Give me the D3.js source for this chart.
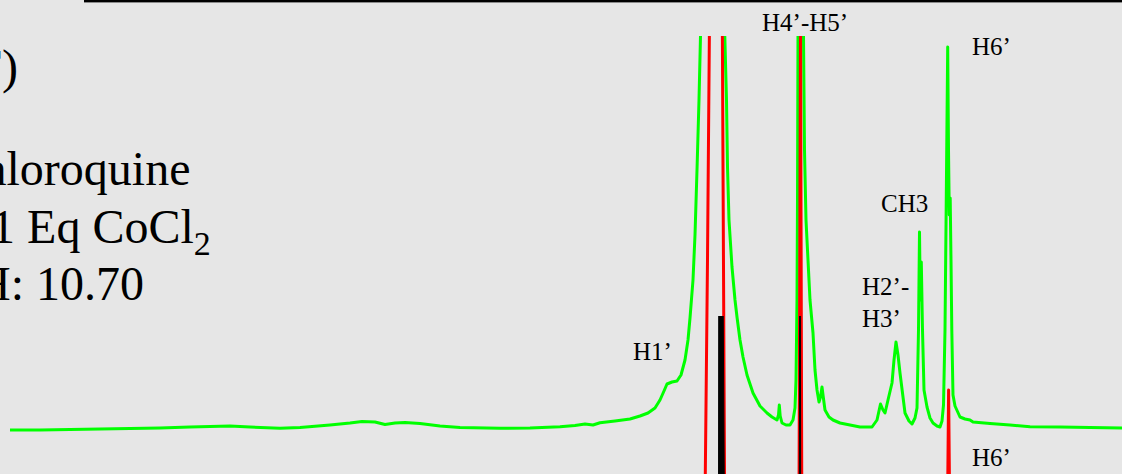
<!DOCTYPE html>
<html>
<head>
<meta charset="utf-8">
<script src="https://cdn.jsdelivr.net/npm/d3@7"></script>
<style>
  html, body { margin: 0; padding: 0; background: #e6e6e6; overflow: hidden; }
  #wrapper { width: 1122px; height: 474px; }
</style>
</head>
<body>
<div id="wrapper"></div>
<script>
// spectra as [chemical shift (ppm), intensity] pairs
const greenTrace = [
    [11.12, 2], [10.82, 2], [10.52, 2.5], [10.22, 3], [9.92, 3.5], [9.62, 4],
    [9.32, 5], [9.22, 5.3], [8.92, 6], [8.72, 5], [8.42, 3.7], [8.22, 4.5], [7.92, 7],
    [7.72, 9], [7.60, 10.5], [7.47, 10], [7.37, 7.5], [7.27, 9], [7.17, 9.5], [7.02, 8.5],
    [6.82, 6], [6.62, 4.5], [6.22, 3.7], [5.92, 4], [5.62, 5.3], [5.47, 6.5], [5.37, 8],
    [5.29, 7], [5.22, 9.3], [5.07, 11], [4.92, 13], [4.82, 16], [4.74, 19], [4.67, 24],
    [4.62, 32], [4.58, 41], [4.55, 48], [4.50, 50], [4.45, 51], [4.41, 57], [4.37, 72],
    [4.34, 92], [4.32, 114], [4.29, 152], [4.27, 197], [4.25, 262], [4.23, 332],
    [4.215, 396], [4.19, 480], [4.00, 480], [3.972, 396], [3.955, 332], [3.945, 265],
    [3.93, 212], [3.90, 165], [3.87, 132], [3.85, 115], [3.82, 92], [3.79, 75], [3.75, 57],
    [3.69, 39], [3.62, 26], [3.55, 19], [3.50, 15], [3.45, 12], [3.435, 17], [3.427, 27],
    [3.418, 16], [3.40, 9], [3.36, 7], [3.32, 7], [3.29, 12], [3.27, 24], [3.26, 52],
    [3.25, 132], [3.245, 232], [3.24, 396], [3.23, 480], [3.19, 480], [3.185, 396],
    [3.175, 282], [3.16, 212], [3.15, 192], [3.12, 132], [3.09, 99], [3.07, 62], [3.05, 42],
    [3.03, 30], [3.015, 35], [3.00, 45], [2.99, 37], [2.97, 22], [2.93, 15], [2.89, 12],
    [2.82, 9], [2.72, 7], [2.62, 5], [2.50, 5], [2.45, 12], [2.415, 28], [2.39, 22],
    [2.37, 19], [2.34, 32], [2.30, 49], [2.28, 72], [2.26, 90], [2.24, 77], [2.22, 59],
    [2.19, 35], [2.17, 19], [2.13, 11], [2.10, 8], [2.07, 14], [2.05, 24], [2.035, 102],
    [2.025, 200], [2.017, 132], [2.007, 170], [1.995, 102], [1.98, 42], [1.95, 25],
    [1.92, 14], [1.89, 9], [1.85, 6], [1.82, 5], [1.80, 11], [1.785, 27], [1.77, 102],
    [1.76, 205], [1.75, 312], [1.743, 385], [1.735, 282], [1.727, 217], [1.718, 234],
    [1.71, 172], [1.702, 102], [1.69, 37], [1.67, 26], [1.62, 15], [1.57, 13], [1.52, 12],
    [1.49, 10], [1.32, 8.5], [1.12, 7], [0.92, 5.3], [0.62, 5], [0.32, 4.5], [0.00, 4]
];
const redTrace = [
    [11.22, 0], [4.19, 0], [4.167, 26], [4.145, 240], [4.125, 480], [3.997, 480],
    [3.975, 26], [3.96, 0], [3.23, 0], [3.215, 480], [3.202, 0], [1.744, 0],
    [1.734, 110], [1.724, 0], [0.00, 0]
];
const blackTrace = [
    [11.22, 0], [4.035, 0], [4.03, 480], [4.005, 480], [3.975, 0], [3.227, 0],
    [3.22, 480], [3.213, 0], [0.00, 0]
];
// peak labels: text, shift, intensity, which trace they sit on
const peakLabels = [
    { text: 'H4’-H5’', shift: 3.60, intensity: 401, trace: 'green' },
    { text: 'H6’', shift: 1.50, intensity: 377, trace: 'green' },
    { text: 'CH3', shift: 2.41, intensity: 220, trace: 'green' },
    { text: 'H2’-', shift: 2.60, intensity: 137, trace: 'green' },
    { text: 'H3’', shift: 2.60, intensity: 105, trace: 'green' },
    { text: 'H1’', shift: 4.89, intensity: 72, trace: 'green' },
    { text: 'H6’', shift: 1.50, intensity: 34, trace: 'red' }
];
const titleLines = ['(F)', 'Chloroquine', '+ 1 Eq CoCl', 'pH: 10.70'];

function drawSpectrum() {
    // 1. Accessors
    const xAccessor = d => d[0];
    const yAccessor = d => d[1];
    // 2. Dimensions
    let dimensions = {
        width: 1122,
        height: 474,
        clipTop: 36,
        blackClipTop: 316
    };
    // 3. Workspace
    const wrapper = d3.select('#wrapper')
        .append('svg')
        .attr('width', dimensions.width)
        .attr('height', dimensions.height)
        .style('display', 'block');
    wrapper.append('rect')
        .attr('width', dimensions.width)
        .attr('height', dimensions.height)
        .attr('fill', '#e6e6e6');
    const defs = wrapper.append('defs');
    defs.append('clipPath').attr('id', 'clip-top')
        .append('rect')
        .attr('x', 0).attr('y', dimensions.clipTop)
        .attr('width', dimensions.width)
        .attr('height', dimensions.height - dimensions.clipTop);
    defs.append('clipPath').attr('id', 'clip-black')
        .append('rect')
        .attr('x', 0).attr('y', dimensions.blackClipTop)
        .attr('width', dimensions.width)
        .attr('height', dimensions.height - dimensions.blackClipTop);
    // 4. Scales (ppm axis runs right to left)
    const xScale = d3.scaleLinear()
        .domain([11.22, 0])
        .range([0, dimensions.width]);
    const yScales = {
        green: d3.scaleLinear().domain([0, 400]).range([432, 32]),
        red: d3.scaleLinear().domain([0, 400]).range([500, 100]),
        black: d3.scaleLinear().domain([0, 400]).range([520, 120])
    };
    // 5. Traces
    const lineFor = key => d3.line()
        .x(d => xScale(xAccessor(d)))
        .y(d => yScales[key](yAccessor(d)));
    wrapper.append('path')
        .attr('clip-path', 'url(#clip-top)')
        .attr('d', lineFor('green')(greenTrace))
        .attr('fill', 'none')
        .attr('stroke', '#00ff00')
        .attr('stroke-width', 3)
        .attr('stroke-linejoin', 'round');
    wrapper.append('path')
        .attr('clip-path', 'url(#clip-top)')
        .attr('d', lineFor('red')(redTrace))
        .attr('fill', 'none')
        .attr('stroke', '#ff0000')
        .attr('stroke-width', 3)
        .attr('stroke-linejoin', 'round');
    wrapper.append('path')
        .attr('clip-path', 'url(#clip-black)')
        .attr('d', lineFor('black')(blackTrace))
        .attr('fill', '#000')
        .attr('stroke', '#000')
        .attr('stroke-width', 1);
    // 6. Top rule
    wrapper.append('rect')
        .attr('x', 84).attr('y', 0)
        .attr('width', dimensions.width - 84)
        .attr('height', 2.4)
        .attr('fill', '#000');
    // 7. Peak labels
    wrapper.append('g')
        .selectAll('text')
        .data(peakLabels)
        .join('text')
        .attr('x', d => xScale(d.shift))
        .attr('y', d => yScales[d.trace](d.intensity))
        .attr('font-family', "'Liberation Serif', 'Times New Roman', serif")
        .attr('font-size', 25)
        .attr('fill', '#000')
        .text(d => d.text);
    // 8. Title block, running off the left edge like the original slide
    const title = wrapper.append('g')
        .attr('font-family', "'Liberation Serif', 'Times New Roman', serif")
        .attr('font-size', 48)
        .attr('fill', '#000');
    const titleX = [-40.7, -49.5, -48, -48];
    const titleY = [83, 185, 243, 300];
    titleLines.forEach((t, i) => {
        const txt = title.append('text')
            .attr('x', titleX[i])
            .attr('y', titleY[i])
            .text(t);
        if (i === 2) {
            txt.append('tspan')
                .attr('font-size', 34)
                .attr('dy', 12)
                .text('2');
        }
    });
}

drawSpectrum();
</script>
</body>
</html>
